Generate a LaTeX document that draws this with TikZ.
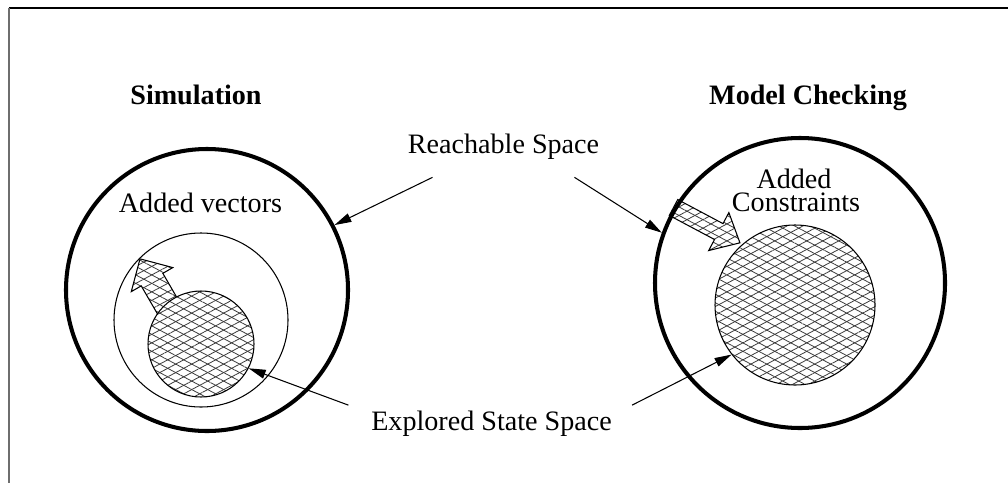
\documentclass[tikz,border=0pt]{standalone}
\usepackage{fontspec}
\setmainfont{Liberation Serif}
\usetikzlibrary{arrows.meta,calc,patterns.meta}
\definecolor{frame}{HTML}{6E6E6E}
\definecolor{hatch}{HTML}{3A3A3A}
% block arrow: tail, angle, length, shaft half width, head half width, head length
\newcommand{\hatcharrow}[6]{%
  \begin{scope}[shift={(#1)},rotate=#2]
    \draw[hatched] (0,-#4) -- ({#3-#6},-#4) -- ({#3-#6},-#5) -- (#3,0)
      -- ({#3-#6},#5) -- ({#3-#6},#4) -- (0,#4) -- cycle;
  \end{scope}}

\begin{document}
\begin{tikzpicture}[
  font=\fontsize{16}{14}\selectfont,
  hatched/.style={draw,line width=0.6pt,
    preaction={fill=white},
    preaction={pattern={Lines[angle=28,distance=1.5mm,line width=0.45pt]},pattern color=hatch},
    preaction={pattern={Lines[angle=-28,distance=1.5mm,line width=0.45pt]},pattern color=hatch}},
  reachable/.style={circle,draw,line width=2.3pt,inner sep=0pt},
  covered/.style={circle,draw,line width=0.6pt,inner sep=0pt},
  explored/.style={circle,hatched,inner sep=0pt},
  label/.style={inner sep=0pt,anchor=base},
  title/.style={label,font=\fontsize{16}{14}\selectfont\bfseries},
  pointer/.style={line width=0.6pt,-{Triangle[length=3.4mm,width=1.8mm]}}]
\useasboundingbox (0,0) rectangle (20.16,9.66);
% cropped frame, only top and left edges show
\draw[line width=0.8pt] (0.18,9.5) -- (20.16,9.5);
\draw[frame,line width=0.8pt] (0.18,9.5) -- (0.18,0);

% simulation side
\node[covered,minimum size=3.48cm] (simCover) at (4.02,3.26) {};
\coordinate (simTail) at (3.48,3.31);
\hatcharrow{simTail}{120.1}{1.356}{0.25}{0.48}{0.48}
\node[explored,minimum size=2.12cm] (simSeen) at (4.02,2.78) {};
\node[reachable,minimum size=5.64cm] (simReach) at (4.14,3.86) {};

% model checking side
\node[explored,minimum size=3.2cm] (mcSeen) at (15.9,3.56) {};
\coordinate (mcTail) at (13.47,5.51);
\hatcharrow{mcTail}{-28}{1.505}{0.18}{0.43}{0.48}
\node[reachable,minimum size=5.8cm] (mcReach) at (16.0,4.0) {};

% labels
\node[title] (simTitle) at (3.92,7.58) {Simulation};
\node[title] (mcTitle) at (16.16,7.58) {Model Checking};
\node[label] (vectors) at (4.01,5.42) {Added vectors};
\node[label,text depth=0pt] (added) at (15.88,5.9) {Added};
\node[label,text height=0.66em] (constraints) at (15.92,5.44) {Constraints};
\node[label] (reach) at (10.07,6.6) {Reachable Space};
\node[label] (expl) at (9.83,1.06) {Explored State Space};

% pointers
\coordinate (reachL) at ($(reach.south west)+(0.5,-0.36)$);
\coordinate (reachR) at ($(reach.south east)+(-0.5,-0.36)$);
\coordinate (explL) at ($(expl.north west)+(-0.45,0.1)$);
\coordinate (explR) at ($(expl.north east)+(0.4,0.1)$);
\draw[pointer] (reachL) -- (simReach.27);
\draw[pointer] (reachR) -- (mcReach.160.7);
\draw[pointer] (explL) -- (simSeen.-27);
\draw[pointer] (explR) -- (mcSeen.218.7);
\end{tikzpicture}
\end{document}
